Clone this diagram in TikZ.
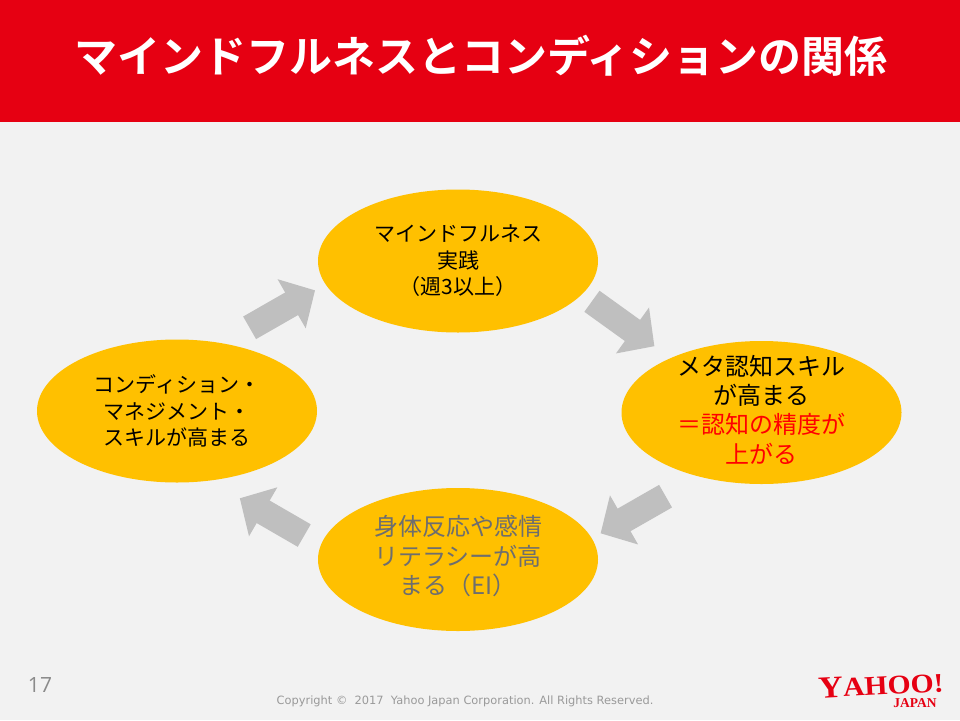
\documentclass[tikz,border=0pt]{standalone}
\usepackage{fontspec}
\setmainfont{Noto Sans CJK JP}[BoldFont={Noto Sans CJK JP Bold}]
\newfontfamily\logofont{Liberation Serif}
\newfontfamily\notefont{DejaVu Sans}
\newfontfamily\pagefont{Open Sans}
\usetikzlibrary{arrows.meta,shapes.geometric}
\definecolor{slidebg}{HTML}{F2F2F2}
\definecolor{yahoored}{HTML}{E60012}
\definecolor{loopfill}{HTML}{FFC000}
\definecolor{arrowgray}{HTML}{BFBFBF}
\definecolor{textgray}{HTML}{6E6E6E}
\tikzstyle{stage}=[ellipse, fill=loopfill, inner sep=0pt, minimum width=280pt, minimum height=143pt, align=center, font=\fontsize{21}{26.5}\selectfont]
\tikzstyle{bigtext}=[align=center, inner sep=0pt, font=\fontsize{24}{29.3}\selectfont]
\tikzstyle{blockarrow}=[draw=arrowgray, line width=26pt, -{Triangle[length=27pt,width=55pt]}]
\newcommand{\stage}{\node[stage]}
\begin{document}
\begin{tikzpicture}[x=1pt,y=-1pt]
            \useasboundingbox (0,0) rectangle (960,720);
            \fill[slidebg] (0,0) rectangle (960,720);
            \fill[yahoored] (0,0) rectangle (960,122);
            \node (title) at (481,56) [text=white, font=\fontsize{43}{50}\selectfont\bfseries]{マインドフルネスとコンディションの関係};
            \stage (practice) at (458,261) {マインドフルネス\\実践\\（週3以上）};
            \stage (meta) at (761.5,412.5) {};
            \stage (body) at (458,559.5) {};
            \stage (skill) at (177,411) {コンディション・\\マネジメント・\\スキルが高まる};
            \node[bigtext] (metatext) at (761.5,409.5) {メタ認知スキル\\が高まる\\\textcolor{red}{＝認知の精度が}\\\textcolor{red}{上がる}};
            \node[bigtext, text=textgray] (bodytext) at (458,556) {身体反応や感情\\リテラシーが高\\まる（EI）};
            \draw[blockarrow, shorten <=12pt, shorten >=20pt] (practice.-15.7) -- (meta.149.2);
            \draw[blockarrow, shorten <=39pt, shorten >=10pt] (meta.-134.2) -- (body.9);
            \draw[blockarrow, shorten <=19pt, shorten >=35pt] (body.174) -- (skill.-65.8);
            \draw[blockarrow, shorten <=31pt, shorten >=12pt] (skill.56.3) -- (practice.-170.5);
            \node (page) at (40,685) [text=textgray!80, font=\fontsize{21}{24}\pagefont]{17};
            \node (copyright) at (465,701) [text=textgray!70, font=\fontsize{11.4}{13}\notefont]{Copyright ©\ \ 2017\ \ Yahoo Japan Corporation. All Rights Reserved.};
            \node (logo) at (881,685) [text=yahoored, inner sep=0pt, rotate=3, xscale=1.1, font=\fontsize{31}{31}\logofont\bfseries]{Y\fontsize{27}{27}\selectfont AHOO!};
            \node (japan) at (915,703) [text=yahoored, inner sep=0pt, font=\fontsize{13.5}{13.5}\logofont\bfseries]{JAPAN};
        \end{tikzpicture}
\end{document}
